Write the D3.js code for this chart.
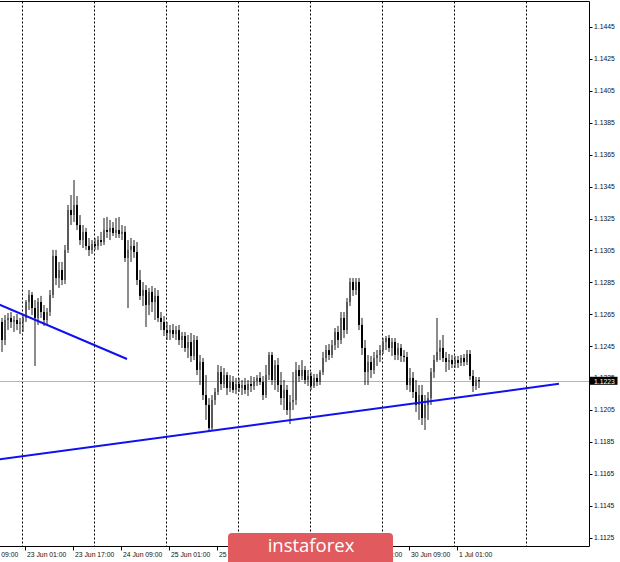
<!DOCTYPE html>
<html><head><meta charset="utf-8">
<script src="https://cdn.jsdelivr.net/npm/d3@7"></script>
<style>
html,body{margin:0;padding:0;background:#fff;}
svg{display:block;}
</style></head><body>
<svg id="c" width="620" height="562"></svg>
<script>
// EURUSD H1 candles, bar index 0 = 22 Jun 17:00 ... 159 = 1 Jul 08:00
const open = [
1.12602,1.12489,1.12614,1.12627,1.12602,1.12614,1.12589,1.12602,1.12627,1.12727,
1.12771,1.12689,1.12627,1.12727,1.12664,1.12614,1.12664,1.12771,1.13015,1.12877,
1.12927,1.12865,1.13053,1.13303,1.13272,1.13335,1.13209,1.13115,1.13166,1.13078,
1.13053,1.13090,1.13078,1.13115,1.13103,1.13178,1.13166,1.13191,1.13159,1.13178,
1.13153,1.13166,1.13003,1.13053,1.13078,1.13040,1.12865,1.12765,1.12802,1.12708,
1.12790,1.12727,1.12765,1.12627,1.12602,1.12551,1.12533,1.12551,1.12526,1.12551,
1.12489,1.12514,1.12439,1.12476,1.12389,1.12489,1.12301,1.12351,1.12144,1.12082,
1.11937,1.12113,1.12163,1.12288,1.12213,1.12269,1.12188,1.12226,1.12176,1.12213,
1.12188,1.12207,1.12176,1.12213,1.12201,1.12232,1.12251,1.12226,1.12144,1.12269,
1.12395,1.12238,1.12332,1.12207,1.12125,1.12176,1.12050,1.12100,1.12113,1.12301,
1.12263,1.12301,1.12238,1.12263,1.12201,1.12251,1.12226,1.12288,1.12376,1.12426,
1.12395,1.12457,1.12539,1.12489,1.12627,1.12551,1.12727,1.12852,1.12802,1.12852,
1.12583,1.12439,1.12288,1.12351,1.12301,1.12376,1.12395,1.12426,1.12476,1.12501,
1.12439,1.12476,1.12395,1.12439,1.12389,1.12382,1.12207,1.12251,1.12163,1.12082,
1.12144,1.12000,1.12082,1.12125,1.12288,1.12363,1.12414,1.12439,1.12376,1.12351,
1.12363,1.12338,1.12363,1.12345,1.12376,1.12351,1.12401,1.12263,1.12201,1.12238];
const high = [
1.12627,1.12645,1.12658,1.12664,1.12639,1.12652,1.12627,1.12645,1.12739,1.12802,
1.12790,1.12739,1.12752,1.12765,1.12708,1.12689,1.12802,1.13053,1.13053,1.12978,
1.12978,1.13084,1.13335,1.13397,1.13491,1.13391,1.13272,1.13209,1.13191,1.13128,
1.13115,1.13128,1.13140,1.13166,1.13253,1.13260,1.13241,1.13228,1.13253,1.13260,
1.13209,1.13203,1.13115,1.13128,1.13115,1.13103,1.12927,1.12852,1.12833,1.12815,
1.12827,1.12815,1.12802,1.12664,1.12639,1.12602,1.12583,1.12589,1.12577,1.12583,
1.12539,1.12539,1.12520,1.12533,1.12520,1.12514,1.12395,1.12376,1.12269,1.12125,
1.12144,1.12188,1.12332,1.12326,1.12313,1.12288,1.12269,1.12263,1.12251,1.12251,
1.12238,1.12251,1.12238,1.12263,1.12257,1.12269,1.12288,1.12263,1.12332,1.12414,
1.12414,1.12363,1.12376,1.12288,1.12238,1.12207,1.12144,1.12288,1.12351,1.12332,
1.12363,1.12326,1.12301,1.12288,1.12276,1.12276,1.12301,1.12414,1.12457,1.12464,
1.12489,1.12564,1.12577,1.12664,1.12664,1.12752,1.12877,1.12877,1.12877,1.12877,
1.12627,1.12489,1.12395,1.12389,1.12414,1.12426,1.12457,1.12501,1.12514,1.12520,
1.12501,1.12501,1.12470,1.12464,1.12426,1.12414,1.12313,1.12288,1.12238,1.12207,
1.12207,1.12144,1.12163,1.12313,1.12395,1.12627,1.12489,1.12520,1.12414,1.12401,
1.12395,1.12389,1.12389,1.12395,1.12401,1.12426,1.12426,1.12301,1.12257,1.12257];
const low = [
1.12414,1.12457,1.12551,1.12564,1.12539,1.12551,1.12526,1.12539,1.12602,1.12677,
1.12645,1.12326,1.12583,1.12627,1.12577,1.12583,1.12639,1.12752,1.12833,1.12815,
1.12833,1.12840,1.13034,1.13209,1.13228,1.13178,1.13084,1.13065,1.13053,1.13015,
1.13028,1.13053,1.13053,1.13078,1.13084,1.13128,1.13115,1.13140,1.13128,1.13128,
1.13115,1.12978,1.12689,1.12978,1.13003,1.12833,1.12739,1.12702,1.12570,1.12645,
1.12664,1.12614,1.12602,1.12551,1.12514,1.12489,1.12489,1.12501,1.12489,1.12457,
1.12439,1.12414,1.12376,1.12351,1.12363,1.12269,1.12207,1.12113,1.11988,1.11912,
1.11925,1.12082,1.12144,1.12176,1.12188,1.12144,1.12163,1.12157,1.12150,1.12163,
1.12144,1.12150,1.12138,1.12163,1.12176,1.12201,1.12207,1.12113,1.12125,1.12238,
1.12207,1.12176,1.12163,1.12082,1.12050,1.12019,1.11962,1.12050,1.12082,1.12226,
1.12238,1.12213,1.12201,1.12176,1.12188,1.12201,1.12207,1.12269,1.12351,1.12363,
1.12376,1.12426,1.12439,1.12464,1.12501,1.12526,1.12702,1.12765,1.12771,1.12551,
1.12395,1.12207,1.12207,1.12251,1.12276,1.12326,1.12351,1.12401,1.12426,1.12414,
1.12389,1.12363,1.12363,1.12351,1.12351,1.12176,1.12163,1.12125,1.12038,1.11988,
1.11956,1.11925,1.11988,1.12082,1.12251,1.12351,1.12363,1.12351,1.12288,1.12301,
1.12313,1.12313,1.12313,1.12326,1.12326,1.12332,1.12238,1.12163,1.12176,1.12188];
const close = [
1.12489,1.12614,1.12627,1.12602,1.12614,1.12589,1.12602,1.12627,1.12727,1.12771,
1.12689,1.12627,1.12727,1.12664,1.12614,1.12664,1.12771,1.13015,1.12877,1.12927,
1.12865,1.13053,1.13303,1.13272,1.13335,1.13209,1.13115,1.13166,1.13078,1.13053,
1.13090,1.13078,1.13115,1.13103,1.13178,1.13166,1.13191,1.13159,1.13178,1.13153,
1.13166,1.13003,1.13053,1.13078,1.13040,1.12865,1.12765,1.12802,1.12708,1.12790,
1.12727,1.12765,1.12627,1.12602,1.12551,1.12533,1.12551,1.12526,1.12551,1.12489,
1.12514,1.12439,1.12476,1.12389,1.12489,1.12301,1.12351,1.12144,1.12082,1.11937,
1.12113,1.12163,1.12288,1.12213,1.12269,1.12188,1.12226,1.12176,1.12213,1.12188,
1.12207,1.12176,1.12213,1.12201,1.12232,1.12251,1.12226,1.12144,1.12269,1.12395,
1.12238,1.12332,1.12207,1.12125,1.12176,1.12050,1.12100,1.12113,1.12301,1.12263,
1.12301,1.12238,1.12263,1.12201,1.12251,1.12226,1.12288,1.12376,1.12426,1.12395,
1.12457,1.12539,1.12489,1.12627,1.12551,1.12727,1.12852,1.12802,1.12852,1.12583,
1.12439,1.12288,1.12351,1.12301,1.12376,1.12395,1.12426,1.12476,1.12501,1.12439,
1.12476,1.12395,1.12439,1.12389,1.12382,1.12207,1.12251,1.12163,1.12082,1.12144,
1.12000,1.12082,1.12125,1.12288,1.12363,1.12414,1.12439,1.12376,1.12351,1.12363,
1.12338,1.12363,1.12345,1.12376,1.12351,1.12401,1.12263,1.12201,1.12238,1.12230];

const priceTicks = [1.1125,1.1145,1.1165,1.1185,1.1205,1.1225,1.1245,1.1265,1.1285,
  1.1305,1.1325,1.1345,1.1365,1.1385,1.1405,1.1425,1.1445];
const timeLabelBars = [-8, 8, 24, 40, 56, 72, 88, 104, 120, 136, 152];
const timeLabels = ["22 Jun 09:00","23 Jun 01:00","23 Jun 17:00","24 Jun 09:00","25 Jun 01:00",
  "25 Jun 17:00","26 Jun 09:00","29 Jun 01:00","29 Jun 17:00","30 Jun 09:00","1 Jul 01:00"];
const dayGridBars = [7, 31, 55, 79, 103, 127, 151, 175];
const bidPrice = 1.1223;
const trendBars = [[-0.5, 42], [-0.5, 186]];
const trendPrices = [[1.12710, 1.12370], [1.11741, 1.12214]];
const watermarkText = "instaforex";

const svg = d3.select("#c");
const plotRight = 589.5, plotTop = 1.5, plotBottom = 546.5;
const x = d3.scaleLinear().domain([0, 159]).range([1, 478]);
const y = d3.scaleLinear().domain([1.1125, 1.1445]).range([537.7, 27]);
const font = "'Liberation Sans', Arial, sans-serif";

svg.append("defs").append("clipPath").attr("id","clip")
  .append("rect").attr("x",0).attr("y",plotTop).attr("width",plotRight).attr("height",plotBottom-plotTop);

const plot = svg.append("g").attr("clip-path","url(#clip)");

// day separators (dotted)
plot.selectAll("line.grid").data(dayGridBars).join("line")
  .attr("x1", d=>Math.round(x(d))+0.5).attr("x2", d=>Math.round(x(d))+0.5)
  .attr("y1", plotTop).attr("y2", plotBottom)
  .attr("stroke","#000").attr("stroke-width",1).attr("stroke-dasharray","2,2");

// bid line
plot.append("line").attr("x1",0).attr("x2",plotRight)
  .attr("y1", Math.round(y(bidPrice))+0.5).attr("y2", Math.round(y(bidPrice))+0.5)
  .attr("stroke","#b4b4b4").attr("stroke-width",1);

// candles
const idx = d3.range(close.length);
plot.selectAll("line.wick").data(idx).join("line")
  .attr("x1", i=>Math.round(x(i))+1).attr("x2", i=>Math.round(x(i))+1)
  .attr("y1", i=>y(high[i])).attr("y2", i=>y(low[i]))
  .attr("stroke","#1a1a1a").attr("stroke-width",1);
plot.selectAll("rect.body").data(idx).join("rect")
  .attr("x", i=>Math.round(x(i))).attr("width",2)
  .attr("y", i=>y(Math.max(open[i],close[i])))
  .attr("height", i=>Math.max(1, Math.abs(y(open[i])-y(close[i]))))
  .attr("fill", i=>close[i]>=open[i] ? "#5a5a5a" : "#000");

// trend lines
trendBars.forEach((b,k)=>{
  plot.append("line")
    .attr("x1", x(b[0])).attr("y1", y(trendPrices[k][0]))
    .attr("x2", x(b[1])).attr("y2", y(trendPrices[k][1]))
    .attr("stroke","#1010f0").attr("stroke-width",2);
});

// frame
svg.append("path")
  .attr("d", `M0,${plotTop}H${plotRight}V${plotBottom}H0`)
  .attr("fill","none").attr("stroke","#000").attr("stroke-width",1);

// price axis
const pa = svg.append("g");
pa.selectAll("line").data(priceTicks).join("line")
  .attr("x1",plotRight).attr("x2",plotRight+3)
  .attr("y1", d=>Math.round(y(d))+0.5).attr("y2", d=>Math.round(y(d))+0.5)
  .attr("stroke","#000");
pa.selectAll("text").data(priceTicks).join("text")
  .attr("x", 594).attr("y", d=>y(d)).attr("dy","0.35em")
  .attr("font-family",font).attr("font-size",6.8).attr("fill","#111")
  .text(d=>d.toFixed(4));

// bid label
svg.append("rect").attr("x",plotRight).attr("y", y(bidPrice)-4.5).attr("width",28).attr("height",8)
  .attr("fill","#000");
svg.append("text").attr("x",594).attr("y",y(bidPrice)).attr("dy","0.35em")
  .attr("font-family",font).attr("font-size",6.8).attr("fill","#fff").text(bidPrice.toFixed(4));

// time axis
const ta = svg.append("g");
ta.selectAll("line").data(timeLabelBars).join("line")
  .attr("x1", d=>Math.round(x(d))+0.5).attr("x2", d=>Math.round(x(d))+0.5)
  .attr("y1", plotBottom).attr("y2", plotBottom+4)
  .attr("stroke","#000");
ta.selectAll("text").data(timeLabelBars).join("text")
  .attr("x", d=>x(d)+2).attr("y", 557)
  .attr("font-family",font).attr("font-size",6.8).attr("fill","#111")
  .text((d,i)=>timeLabels[i]);

// watermark
const wm = svg.append("g");
wm.append("rect").attr("x",228).attr("y",533).attr("width",165).attr("height",40).attr("rx",4)
  .attr("fill","#e05a5e");
wm.append("text").attr("x",311).attr("y",552).attr("text-anchor","middle")
  .attr("font-family","'Open Sans', sans-serif").attr("font-size",18.5).attr("fill","#fff")
  .text(watermarkText);
</script>
</body></html>
